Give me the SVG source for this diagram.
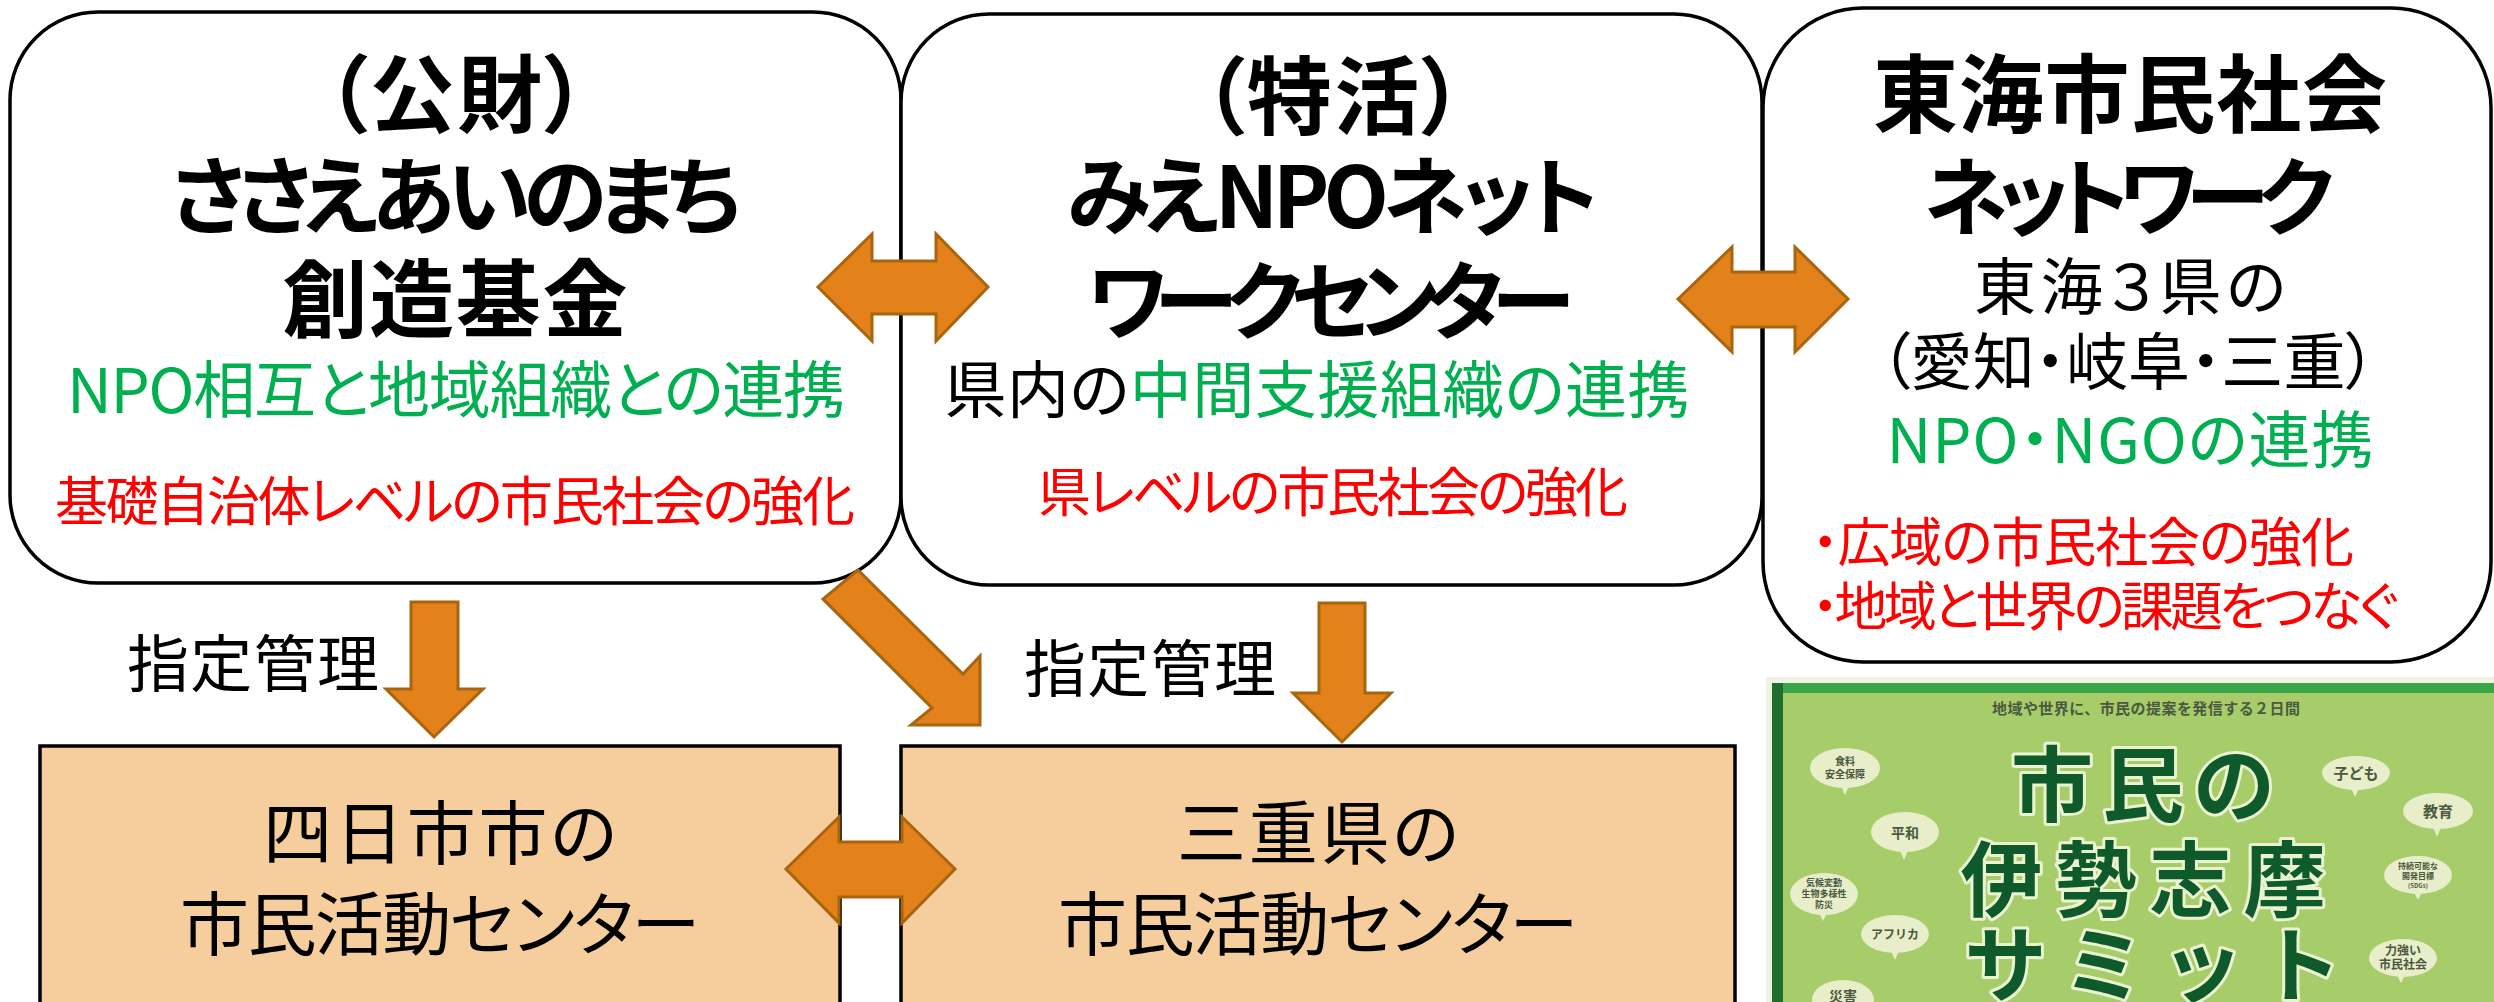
<svg xmlns="http://www.w3.org/2000/svg" width="2494" height="1002" viewBox="0 0 2494 1002">
  <style>
    .box { fill: #ffffff; stroke: #000000; stroke-width: 3.5; }
    .cbox { fill: #F6CD9D; stroke: #000000; stroke-width: 3.5; }
    .arw { fill: #E3821A; stroke: #A9640F; stroke-width: 3; stroke-linejoin: miter; }
    .jp { font-family: "Noto Sans CJK JP", "Noto Sans", sans-serif; font-feature-settings: "palt" 1; }
    .h { font-size: 85px; font-weight: 700; fill: #000000; text-anchor: middle; }
    .m { font-size: 62px; fill: #000000; text-anchor: middle; }
    .s { font-size: 53px; fill: #FF0000; text-anchor: middle; }
    .lab { font-size: 62px; fill: #000000; text-anchor: middle; }
    .c { font-size: 69px; fill: #000000; text-anchor: middle; }
    .g { fill: #00B050; }
    .bub { fill: #E7EEC9; }
    .bt { font-family: "Noto Sans CJK JP", sans-serif; fill: #4A5940; text-anchor: middle; font-weight: 700; }
    .pt { font-family: "Noto Sans CJK JP", sans-serif; font-size: 82px; font-weight: 700; fill: #0F5A2B; stroke: #EAF2D0; stroke-width: 6; paint-order: stroke; stroke-linejoin: round; text-anchor: middle; }
  </style>

  <!-- upper row: intermediary organisations -->
  <g id="node-sasaeai">
    <rect class="box" x="10" y="12" width="891" height="571" rx="88" ry="88"/>
    <text class="jp h" x="456" y="126" textLength="262" lengthAdjust="spacing">（公財）</text>
    <text class="jp h" x="456" y="228" textLength="570" lengthAdjust="spacing">ささえあいのまち</text>
    <text class="jp h" x="455" y="331" textLength="345" lengthAdjust="spacing">創造基金</text>
    <text class="jp m g" x="456" y="413" textLength="778" lengthAdjust="spacing">NPO相互と地域組織との連携</text>
    <text class="jp s" x="455" y="521" textLength="800" lengthAdjust="spacing">基礎自治体レベルの市民社会の強化</text>
  </g>

  <g id="node-mie-npo">
    <rect class="box" x="901" y="14" width="861" height="571" rx="88" ry="88"/>
    <text class="jp h" x="1333" y="128" textLength="262" lengthAdjust="spacing">（特活）</text>
    <text class="jp h" x="1333" y="228" textLength="532" lengthAdjust="spacing">みえNPOネット</text>
    <text class="jp h" x="1331" y="333" textLength="487" lengthAdjust="spacing">ワークセンター</text>
    <text class="jp m" x="1317" y="413" textLength="745" lengthAdjust="spacing">県内の<tspan class="g">中間支援組織の連携</tspan></text>
    <text class="jp s" x="1333" y="512" textLength="590" lengthAdjust="spacing">県レベルの市民社会の強化</text>
  </g>

  <g id="node-tokai">
    <rect class="box" x="1763" y="8" width="728" height="654" rx="100" ry="100"/>
    <text class="jp h" x="2130" y="126" textLength="514" lengthAdjust="spacing">東海市民社会</text>
    <text class="jp h" x="2129" y="229" textLength="410" lengthAdjust="spacing">ネットワーク</text>
    <text class="jp m" x="2130" y="310" textLength="312" lengthAdjust="spacing">東海３県の</text>
    <text class="jp m" x="2128" y="385" textLength="497" lengthAdjust="spacing">（愛知・岐阜・三重）</text>
    <text class="jp m g" x="2130" y="463" textLength="487" lengthAdjust="spacing">NPO・NGOの連携</text>
    <text class="jp s" x="1812" y="562" style="text-anchor:start" textLength="542" lengthAdjust="spacing">・広域の市民社会の強化</text>
    <text class="jp s" x="1812" y="626" style="text-anchor:start" textLength="586" lengthAdjust="spacing">・地域と世界の課題をつなぐ</text>
  </g>

  <!-- lower row: civic activity centres -->
  <g id="node-yokkaichi">
    <rect class="cbox" x="40" y="746" width="800" height="300"/>
    <text class="jp c" x="440" y="859" textLength="354" lengthAdjust="spacing">四日市市の</text>
    <text class="jp c" x="440" y="950" textLength="520" lengthAdjust="spacing">市民活動センター</text>
  </g>

  <g id="node-mie-center">
    <rect class="cbox" x="901" y="746" width="834" height="300"/>
    <text class="jp c" x="1318" y="859" textLength="282" lengthAdjust="spacing">三重県の</text>
    <text class="jp c" x="1318" y="950" textLength="520" lengthAdjust="spacing">市民活動センター</text>
  </g>

  <!-- connectors -->
  <g id="connectors">
    <path class="arw" d="M818,287 L872,234 L872,261 L936,261 L936,234 L988,287 L936,341 L936,314 L872,314 L872,341 Z"/>
    <path class="arw" d="M1678,299 L1732,247 L1732,272 L1795,272 L1795,247 L1848,299 L1795,352 L1795,327 L1732,327 L1732,352 Z"/>
    <path class="arw" d="M786,869 L839,817 L839,842 L902,842 L902,817 L955,869 L902,923 L902,897 L839,897 L839,923 Z"/>
    <path class="arw" d="M411,602 L458,602 L458,689 L483,689 L434,737 L386,689 L411,689 Z"/>
    <path class="arw" d="M1319,603 L1365,603 L1365,693 L1391,693 L1342,742 L1293,693 L1319,693 Z"/>
    <path class="arw" d="M858,570 L963,674 L980,656 L980,725 L911,725 L932,708 L823,599 Z"/>
    <text class="jp lab" x="253" y="687" textLength="252" lengthAdjust="spacing">指定管理</text>
    <text class="jp lab" x="1150" y="692" textLength="252" lengthAdjust="spacing">指定管理</text>
  </g>

  <!-- summit poster -->
  <g id="poster">
    <rect x="1766" y="677" width="728" height="325" fill="#EEF3E4"/>
    <rect x="1772" y="683" width="722" height="319" fill="#3AA649"/>
    <rect x="1772" y="683" width="11" height="319" fill="#1E6E2D"/>
    <rect x="1783" y="693" width="711" height="309" fill="#A7CC6A"/>
    <text class="bt" x="2146" y="714" font-size="15" textLength="308" lengthAdjust="spacing">地域や世界に、市民の提案を発信する２日間</text>

    <g id="bubbles">
      <ellipse class="bub" cx="1845" cy="768" rx="35" ry="20"/>
      <polygon class="bub" points="1840,784 1850,784 1845,795"/>
      <text class="bt" x="1845" y="765" font-size="10">食料</text>
      <text class="bt" x="1845" y="778" font-size="10">安全保障</text>

      <ellipse class="bub" cx="1905" cy="832" rx="34" ry="20"/>
      <polygon class="bub" points="1899,848 1909,848 1904,860"/>
      <text class="bt" x="1905" y="838" font-size="14">平和</text>

      <ellipse class="bub" cx="1824" cy="894" rx="34" ry="21"/>
      <polygon class="bub" points="1818,911 1828,911 1823,921"/>
      <text class="bt" x="1824" y="886" font-size="9">気候変動</text>
      <text class="bt" x="1824" y="897" font-size="9">生物多様性</text>
      <text class="bt" x="1824" y="908" font-size="9">防災</text>

      <ellipse class="bub" cx="1895" cy="934" rx="34" ry="19"/>
      <polygon class="bub" points="1890,949 1900,949 1895,960"/>
      <text class="bt" x="1895" y="939" font-size="12" font-weight="400">アフリカ</text>

      <ellipse class="bub" cx="1843" cy="1000" rx="31" ry="20"/>
      <text class="bt" x="1843" y="1001" font-size="14">災害</text>

      <ellipse class="bub" cx="2356" cy="773" rx="34" ry="17"/>
      <polygon class="bub" points="2350,786 2360,786 2355,797"/>
      <text class="bt" x="2356" y="779" font-size="15" font-weight="400">子ども</text>

      <ellipse class="bub" cx="2438" cy="811" rx="35" ry="18"/>
      <polygon class="bub" points="2432,825 2442,825 2437,837"/>
      <text class="bt" x="2438" y="817" font-size="15">教育</text>

      <ellipse class="bub" cx="2418" cy="875" rx="34" ry="19"/>
      <polygon class="bub" points="2413,890 2423,890 2418,900"/>
      <text class="bt" x="2418" y="869" font-size="8">持続可能な</text>
      <text class="bt" x="2418" y="879" font-size="8">開発目標</text>
      <text class="bt" x="2418" y="888" font-size="6">(SDGs)</text>

      <ellipse class="bub" cx="2403" cy="958" rx="34" ry="19"/>
      <polygon class="bub" points="2396,973 2406,973 2401,983"/>
      <text class="bt" x="2403" y="955" font-size="12" font-weight="400">力強い</text>
      <text class="bt" x="2403" y="969" font-size="12" font-weight="400">市民社会</text>

      <ellipse class="bub" cx="2428" cy="1022" rx="34" ry="20"/>
    </g>

    <text class="pt" x="2143" y="815" textLength="264" lengthAdjust="spacing">市民の</text>
    <text class="pt" x="2143" y="910" textLength="365" lengthAdjust="spacing">伊勢志摩</text>
    <text class="pt" x="2153" y="995" textLength="377" lengthAdjust="spacing">サミット</text>
  </g>
</svg>
